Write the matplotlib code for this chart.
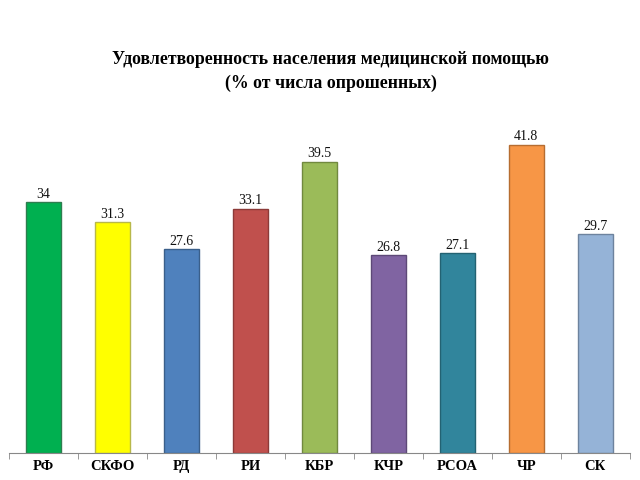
import matplotlib
matplotlib.use("Agg")
import matplotlib.pyplot as plt
import numpy as np

categories = ["РФ", "СКФО", "РД", "РИ", "КБР", "КЧР", "РСОА", "ЧР", "СК"]
values = [34, 31.3, 27.6, 33.1, 39.5, 26.8, 27.1, 41.8, 29.7]
value_labels = ["34", "31.3", "27.6", "33.1", "39.5", "26.8", "27.1", "41.8", "29.7"]
colors = ["#00B050", "#FFFF00", "#4F81BD", "#C0504D", "#9BBB59",
          "#8064A2", "#31859C", "#F79646", "#95B3D7"]
edges = ["#2E7D4F", "#B8B84A", "#3A5F8A", "#8C3A38", "#71893F",
         "#5D4977", "#236272", "#B66D31", "#6D839E"]

plt.rcParams['font.family'] = ['Liberation Serif', 'DejaVu Serif']

fig = plt.figure(figsize=(6.4, 4.8), dpi=100)
ax = fig.add_axes([0.014, 0.056, 0.97, 0.692])
x = np.arange(len(categories))
bars = ax.bar(x, values, width=0.5, color=colors, edgecolor=edges, linewidth=1.0)
for xi, v, lab in zip(x, values, value_labels):
    ax.annotate(lab, (xi, v), xytext=(0, 1), textcoords="offset points",
                ha="center", va="bottom", fontsize=10, color="#111111")

ax.set_xlim(-0.5, len(categories) - 0.5)
ax.set_ylim(0, 45)
ax.set_xticks(x)
ax.set_xticklabels(categories, fontsize=10.5, fontweight="bold")
ax.set_xticks(np.arange(-0.5, len(categories), 1.0), minor=True)
ax.tick_params(axis="x", which="major", length=0, pad=5)
ax.tick_params(axis="x", which="minor", length=4, color="#888888")
ax.set_yticks([])
for s in ["top", "right", "left"]:
    ax.spines[s].set_visible(False)
ax.spines["bottom"].set_color("#888888")

fig.text(0.517, 0.875, "Удовлетворенность населения медицинской помощью",
         ha="center", va="center", fontsize=12.8, fontweight="bold")
fig.text(0.517, 0.827, "(% от числа опрошенных)",
         ha="center", va="center", fontsize=12.8, fontweight="bold")

fig.savefig("out.png", dpi=100)
